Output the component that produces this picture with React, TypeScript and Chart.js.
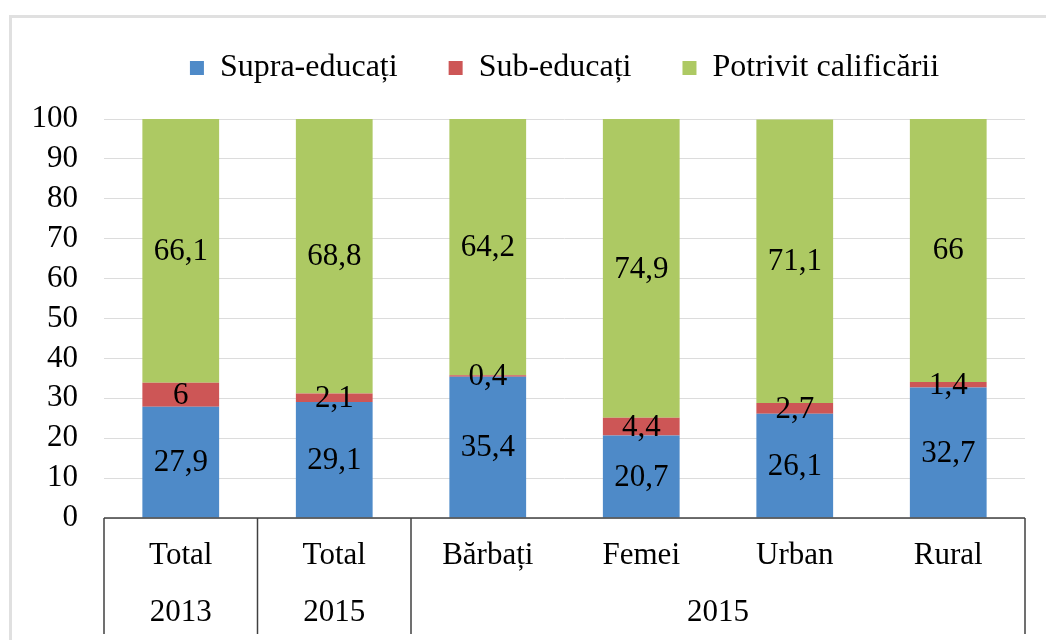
import React, { useEffect, useRef } from "react";
import { Chart, registerables } from "chart.js";

Chart.register(...registerables);

// ---- data ----
const categories = ["Total", "Total", "Bărbați", "Femei", "Urban", "Rural"];
const groupLabels = ["2013", "2015", "2015"];
const groupSpans = [1, 1, 4];
const seriesNames = ["Supra-educați", "Sub-educați", "Potrivit calificării"];
const supraEducati = [27.9, 29.1, 35.4, 20.7, 26.1, 32.7];
const subEducati = [6, 2.1, 0.4, 4.4, 2.7, 1.4];
const potrivitCalificarii = [66.1, 68.8, 64.2, 74.9, 71.1, 66];
const yMin = 0;
const yMax = 100;
const yStep = 10;

// ---- styles ----
const FONT = '"Liberation Serif", "Times New Roman", serif';
const COLORS = ["#4E8AC8", "#CD5656", "#ADC963"];
const AXIS_COLOR = "#404040";
const GRID_COLOR = "#dcdcdc";

const fmt = (v: number) => String(v).replace(".", ",");

const legendSpacer = {
  id: "legendSpacer",
  beforeInit(chart: any) {
    const legend = chart.legend;
    if (!legend) return;
    const origFit = legend.fit;
    legend.fit = function () {
      origFit.call(this);
      this.height += 25;
    };
  },
};

const valueLabels = {
  id: "valueLabels",
  afterDatasetsDraw(chart: any) {
    const ctx = chart.ctx;
    ctx.save();
    ctx.font = `31px ${FONT}`;
    ctx.fillStyle = "#000";
    ctx.textAlign = "center";
    ctx.textBaseline = "middle";
    chart.data.datasets.forEach((ds: any, di: number) => {
      const meta = chart.getDatasetMeta(di);
      meta.data.forEach((el: any, i: number) => {
        const v = ds.data[i] as number;
        const y = (el.y + el.base) / 2;
        ctx.fillText(fmt(v), el.x, y + 1);
      });
    });
    ctx.restore();
  },
};

const groupAxis = {
  id: "groupAxis",
  afterDraw(chart: any) {
    const ctx = chart.ctx;
    const xs = chart.scales.x;
    const area = chart.chartArea;
    const n = categories.length;
    const w = (xs.right - xs.left) / n;
    const top = area.bottom;
    const bottom = area.bottom + 116;
    ctx.save();
    ctx.strokeStyle = AXIS_COLOR;
    ctx.lineWidth = 1.5;
    ctx.beginPath();
    ctx.moveTo(xs.left, top);
    ctx.lineTo(xs.right, top);
    ctx.stroke();
    let start = 0;
    const bounds: number[] = [xs.getPixelForValue(0) - w / 2];
    ctx.font = `31px ${FONT}`;
    ctx.fillStyle = "#000";
    ctx.textAlign = "center";
    ctx.textBaseline = "middle";
    groupSpans.forEach((span, gi) => {
      const end = start + span - 1;
      const left = xs.getPixelForValue(start) - w / 2;
      const right = xs.getPixelForValue(end) + w / 2;
      bounds.push(right);
      ctx.fillText(groupLabels[gi], (left + right) / 2, top + 95);
      start = end + 1;
    });
    bounds.forEach((bx) => {
      ctx.beginPath();
      ctx.moveTo(bx, top);
      ctx.lineTo(bx, bottom);
      ctx.stroke();
    });
    ctx.restore();
  },
};

export default function App() {
  const ref = useRef<HTMLCanvasElement>(null);

  useEffect(() => {
    if (!ref.current) return;
    const chart = new Chart(ref.current, {
      type: "bar",
      data: {
        labels: categories,
        datasets: [supraEducati, subEducati, potrivitCalificarii].map((d, i) => ({
          label: seriesNames[i],
          data: d,
          backgroundColor: COLORS[i],
          borderWidth: 0,
          categoryPercentage: 1,
          barPercentage: 0.5,
        })),
      },
      options: {
        responsive: false,
        animation: false,
        layout: { padding: { top: 1, left: 0, right: 21, bottom: 0 } },
        plugins: {
          legend: {
            position: "top",
            fullSize: false,
            labels: {
              boxWidth: 14,
              boxHeight: 14,
              padding: 51,
              color: "#000",
              font: { family: FONT, size: 32 },
            },
          },
          tooltip: { enabled: false },
          title: { display: false },
        },
        scales: {
          x: {
            stacked: true,
            grid: { display: false, drawTicks: false },
            border: { display: false },
            ticks: {
              color: "#000",
              padding: 19,
              font: { family: FONT, size: 31 },
              maxRotation: 0,
              autoSkip: false,
            },
            afterFit: (s: any) => {
              s.height = 122;
            },
          },
          y: {
            stacked: true,
            min: yMin,
            max: yMax,
            grid: { color: GRID_COLOR, lineWidth: 1, drawTicks: false },
            border: { display: false },
            ticks: {
              stepSize: yStep,
              autoSkip: false,
              color: "#000",
              padding: 26,
              font: { family: FONT, size: 31 },
            },
            afterFit: (s: any) => {
              s.width = 104;
            },
          },
        },
      },
      plugins: [legendSpacer, valueLabels, groupAxis],
    });
    return () => chart.destroy();
  }, []);

  return (
    <div
      style={{
        position: "fixed",
        left: 0,
        top: 0,
        width: 1046,
        height: 640,
        overflow: "hidden",
        background: "#fff",
      }}
    >
      <div
        style={{
          position: "absolute",
          left: 9,
          top: 15,
          width: 1200,
          height: 800,
          border: "3px solid #e0e0e0",
        }}
      />
      <canvas
        ref={ref}
        width={1046}
        height={640}
        style={{ position: "absolute", left: 0, top: 0, width: 1046, height: 640 }}
      />
    </div>
  );
}
